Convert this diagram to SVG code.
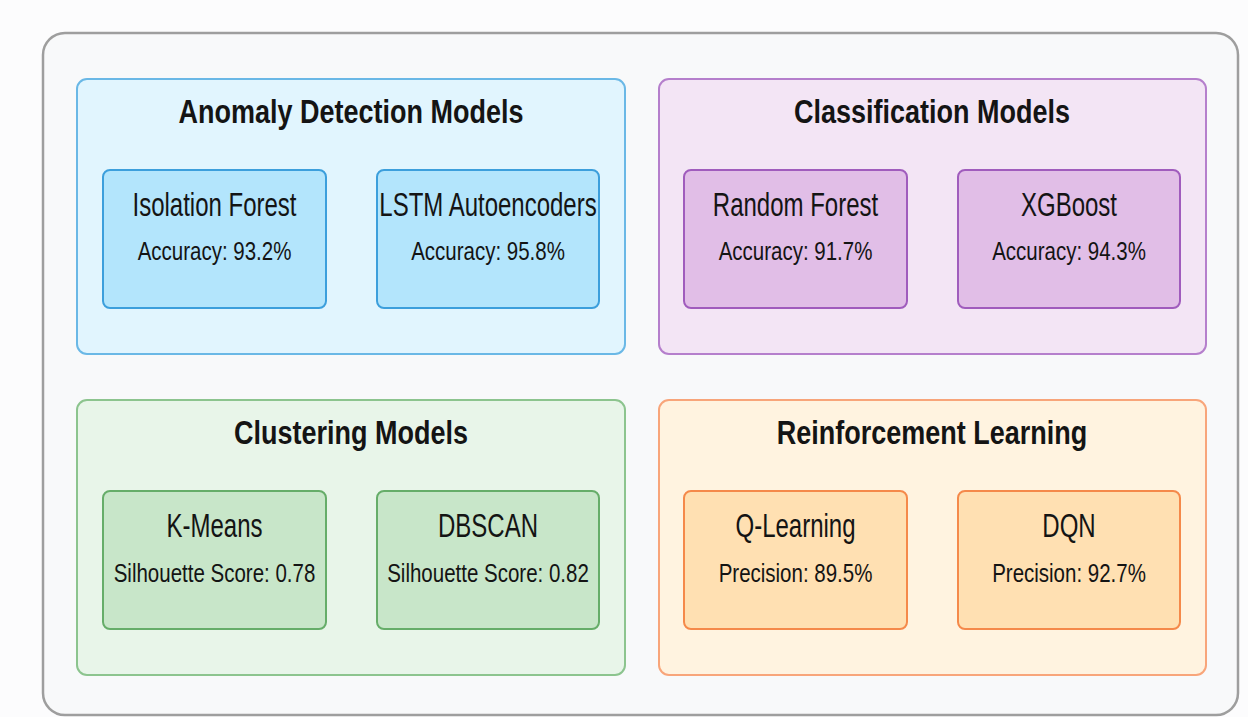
<svg xmlns="http://www.w3.org/2000/svg" width="1248" height="717" viewBox="0 0 1248 717">
  <style>
    text { font-family: "Liberation Sans", Arial, sans-serif; fill: #141414; text-anchor: middle; }
    .title { font-size: 27px; font-weight: bold; }
    .name { font-size: 24px; }
    .metric { font-size: 20.5px; }
    .grp { stroke-width: 2; }
    .node { stroke-width: 2; }
    .blue-g { fill: #e1f5fe; stroke: #6ab8e6; }
    .blue-n { fill: #b3e5fc; stroke: #3c9fdc; }
    .purple-g { fill: #f3e5f5; stroke: #b57fcc; }
    .purple-n { fill: #e1bee7; stroke: #a05cbd; }
    .green-g { fill: #e8f5e9; stroke: #8cc48e; }
    .green-n { fill: #c8e6c9; stroke: #66ad69; }
    .orange-g { fill: #fff3e0; stroke: #f8a57a; }
    .orange-n { fill: #ffe0b2; stroke: #f5894a; }
  </style>

  <rect width="1248" height="717" fill="#fcfcfd"/>
  <!-- outer frame -->
  <rect id="frame" x="43" y="33" width="1195" height="682" rx="22" fill="#f8f9fa" stroke="#9e9e9e" stroke-width="2.5"/>

  <!-- Anomaly detection -->
  <g id="anomaly-detection">
    <rect class="grp blue-g" x="77" y="79" width="548" height="275" rx="10"/>
    <text class="title" transform="translate(351,123) scale(1,1.22)">Anomaly Detection Models</text>
    <g id="isolation-forest">
      <rect class="node blue-n" x="103" y="170" width="223" height="138" rx="7"/>
      <text class="name" transform="translate(214.5,216) scale(1,1.38)">Isolation Forest</text>
      <text class="metric" transform="translate(214.5,260) scale(1,1.28)">Accuracy: 93.2%</text>
    </g>
    <g id="lstm-autoencoders">
      <rect class="node blue-n" x="377" y="170" width="222" height="138" rx="7"/>
      <text class="name" transform="translate(488,216) scale(1,1.38)">LSTM Autoencoders</text>
      <text class="metric" transform="translate(488,260) scale(1,1.28)">Accuracy: 95.8%</text>
    </g>
  </g>

  <!-- Classification -->
  <g id="classification">
    <rect class="grp purple-g" x="659" y="79" width="547" height="275" rx="10"/>
    <text class="title" transform="translate(932,123) scale(1,1.22)">Classification Models</text>
    <g id="random-forest">
      <rect class="node purple-n" x="684" y="170" width="223" height="138" rx="7"/>
      <text class="name" transform="translate(795.5,216) scale(1,1.38)">Random Forest</text>
      <text class="metric" transform="translate(795.5,260) scale(1,1.28)">Accuracy: 91.7%</text>
    </g>
    <g id="xgboost">
      <rect class="node purple-n" x="958" y="170" width="222" height="138" rx="7"/>
      <text class="name" transform="translate(1069,216) scale(1,1.38)">XGBoost</text>
      <text class="metric" transform="translate(1069,260) scale(1,1.28)">Accuracy: 94.3%</text>
    </g>
  </g>

  <!-- Clustering -->
  <g id="clustering">
    <rect class="grp green-g" x="77" y="400" width="548" height="275" rx="10"/>
    <text class="title" transform="translate(351,444) scale(1,1.22)">Clustering Models</text>
    <g id="k-means">
      <rect class="node green-n" x="103" y="491" width="223" height="138" rx="7"/>
      <text class="name" transform="translate(214.5,537) scale(1,1.38)">K-Means</text>
      <text class="metric" transform="translate(214.5,582) scale(1,1.28)">Silhouette Score: 0.78</text>
    </g>
    <g id="dbscan">
      <rect class="node green-n" x="377" y="491" width="222" height="138" rx="7"/>
      <text class="name" transform="translate(488,537) scale(1,1.38)">DBSCAN</text>
      <text class="metric" transform="translate(488,582) scale(1,1.28)">Silhouette Score: 0.82</text>
    </g>
  </g>

  <!-- Reinforcement learning -->
  <g id="reinforcement-learning">
    <rect class="grp orange-g" x="659" y="400" width="547" height="275" rx="10"/>
    <text class="title" transform="translate(932,444) scale(1,1.22)">Reinforcement Learning</text>
    <g id="q-learning">
      <rect class="node orange-n" x="684" y="491" width="223" height="138" rx="7"/>
      <text class="name" transform="translate(795.5,537) scale(1,1.38)">Q-Learning</text>
      <text class="metric" transform="translate(795.5,582) scale(1,1.28)">Precision: 89.5%</text>
    </g>
    <g id="dqn">
      <rect class="node orange-n" x="958" y="491" width="222" height="138" rx="7"/>
      <text class="name" transform="translate(1069,537) scale(1,1.38)">DQN</text>
      <text class="metric" transform="translate(1069,582) scale(1,1.28)">Precision: 92.7%</text>
    </g>
  </g>

  <!-- no connectors between nodes -->
  <g id="connectors"/>
</svg>
